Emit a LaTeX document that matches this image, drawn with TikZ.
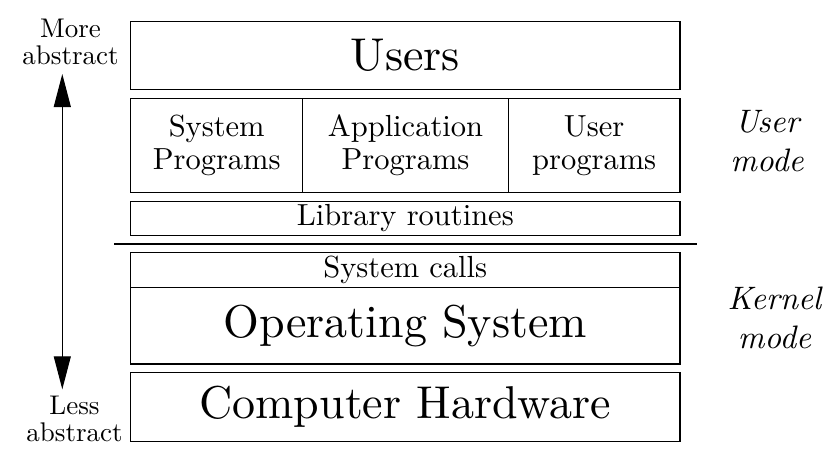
\documentclass[tikz,border=0pt]{standalone}
\usepackage{fontspec}
\setmainfont{lmroman10}[Extension=.otf, UprightFont=*-regular, ItalicFont=*-italic]
\usepackage{tikz}
\usetikzlibrary{arrows.meta,positioning}

\begin{document}
\begin{tikzpicture}[x=1pt, y=-1pt,
    layer/.style={draw, line width=1.1pt, inner sep=0pt, outer sep=0pt, align=center},
    bigtext/.style={font=\fontsize{46}{50}\selectfont},
    midtext/.style={font=\fontsize{30.5}{33}\selectfont},
    sidetext/.style={font=\fontsize{27}{27}\selectfont, align=center, inner sep=0pt},
    modetext/.style={font=\fontsize{32.5}{39}\selectfont\itshape, align=center, inner sep=0pt}]
    \useasboundingbox (0,0) rectangle (834,474);

    % user side
    \node[layer, bigtext, minimum width=549.3pt, minimum height=68pt] (users) at (405.3,55.3) {Users};
    \node[layer, midtext, minimum width=172pt, minimum height=94pt] (sysprog) at (216.7,145.3) {System\\ Programs};
    \node[layer, midtext, minimum width=205.6pt, minimum height=94pt, right=0pt of sysprog] (appprog) {Application\\ Programs};
    \node[layer, midtext, minimum width=171.7pt, minimum height=94pt, right=0pt of appprog] (userprog) {User\\ programs};
    \node[layer, midtext, minimum width=549.3pt, minimum height=33.6pt] (library) at (405.3,218.5) {Library routines};

    % split between the two modes
    \coordinate (splitL) at (114,244);
    \coordinate (splitR) at (697,244);
    \draw[line width=1.1pt] (splitL) -- (splitR);

    % kernel side
    \node[layer, midtext, minimum width=549.3pt, minimum height=34.6pt] (syscalls) at (405.3,270) {System calls};
    \node[layer, bigtext, minimum width=549.3pt, minimum height=76.7pt, below=0pt of syscalls] (os) {Operating System};
    \node[layer, bigtext, minimum width=549.3pt, minimum height=68.3pt] (hardware) at (405.3,406.9) {Computer Hardware};

    % abstraction arrow
    \node[sidetext] (more) at (70.5,42.3) {More\\ abstract};
    \node[sidetext] (less) at (74.5,419.3) {Less\\ abstract};
    \coordinate (arrtop) at (62.3,74);
    \coordinate (arrbot) at (62.3,389.3);
    \draw[line width=1.1pt, {Triangle[length=33pt,width=17pt]}-{Triangle[length=33pt,width=17pt]}] (arrtop) -- (arrbot);

    % modes
    \node[modetext] (usermode) at (767,141.5) {User\\ mode};
    \node[modetext] (kernelmode) at (774.5,318) {Kernel\\ mode};
\end{tikzpicture}
\end{document}
